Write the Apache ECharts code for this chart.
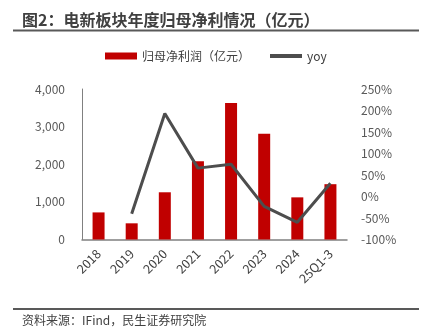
<!DOCTYPE html>
<html>
<head>
<meta charset="utf-8">
<script src="https://cdn.jsdelivr.net/npm/echarts@6/dist/echarts.min.js"></script>
<style>
html,body{margin:0;padding:0;background:#fff;}
#c{width:423px;height:335px;}
</style>
</head>
<body>
<div id="c"></div>
<script>
var categories = ['2018','2019','2020','2021','2022','2023','2024','25Q1-3'];
var profit = [720, 430, 1255, 2080, 3630, 2810, 1120, 1470];
var yoy = [null, -40, 193, 66, 75, -23, -60, 31];
var leftTicks = [0, 1000, 2000, 3000, 4000];
var rightTicks = [-100, -50, 0, 50, 100, 150, 200, 250];

var font = '"Noto Sans CJK SC","Microsoft YaHei",sans-serif';
var chart = echarts.init(document.getElementById('c'));
chart.setOption({
  animation: false,
  backgroundColor: '#fff',
  textStyle: {fontFamily: font},
  title: [
    {text: '图2：电新板块年度归母净利情况（亿元）', left: 17, top: 7,
     textStyle: {fontSize: 16, fontWeight: 'bold', color: '#404040', fontFamily: font}},
    {text: '资料来源：IFind，民生证券研究院', left: 17, top: 309,
     textStyle: {fontSize: 12, fontWeight: 'normal', color: '#404040', fontFamily: font}}
  ],
  graphic: [
    {type: 'line', shape: {x1: 13, y1: 30.5, x2: 419, y2: 30.5}, style: {stroke: '#595959', lineWidth: 2}},
    {type: 'line', shape: {x1: 13, y1: 309, x2: 419, y2: 309}, style: {stroke: '#595959', lineWidth: 2}}
  ],
  legend: {
    top: 45, left: 100,
    itemGap: 20,
    itemWidth: 32, itemHeight: 7,
    textStyle: {fontSize: 12, color: '#404040', fontFamily: font},
    data: [
      {name: '归母净利润（亿元）', icon: 'rect'},
      {name: 'yoy', icon: 'path://M0,0 L32,0 L32,4 L0,4 Z'}
    ]
  },
  grid: {left: 82, right: 76, top: 89, bottom: 95.5},
  xAxis: {
    type: 'category', data: categories,
    axisLine: {lineStyle: {color: '#808080', width: 1.5}},
    axisTick: {show: false},
    axisLabel: {rotate: 45, fontSize: 12.5, color: '#404040', margin: 12, fontFamily: font}
  },
  yAxis: [
    {type: 'value', min: 0, max: 4000, interval: 1000,
     axisLine: {show: true, lineStyle: {color: '#808080', width: 1}},
     axisTick: {show: false}, splitLine: {show: false},
     axisLabel: {fontSize: 12, color: '#595959', margin: 17, fontFamily: font,
       formatter: function(v){ return leftTicks.indexOf(v) >= 0 ? v.toLocaleString('en-US') : ''; }}},
    {type: 'value', min: -100, max: 250, interval: 50,
     axisLine: {show: false}, axisTick: {show: false}, splitLine: {show: false},
     axisLabel: {fontSize: 12, color: '#595959', margin: 14, fontFamily: font,
       formatter: function(v){ return rightTicks.indexOf(v) >= 0 ? v + '%' : ''; }}}
  ],
  series: [
    {name: '归母净利润（亿元）', type: 'bar', data: profit, barWidth: 12,
     itemStyle: {color: '#c00000'}},
    {name: 'yoy', type: 'line', yAxisIndex: 1, data: yoy, symbol: 'none',
     lineStyle: {color: '#4d4d4d', width: 3}, itemStyle: {color: '#4d4d4d'}, connectNulls: false}
  ]
});
</script>
</body>
</html>
